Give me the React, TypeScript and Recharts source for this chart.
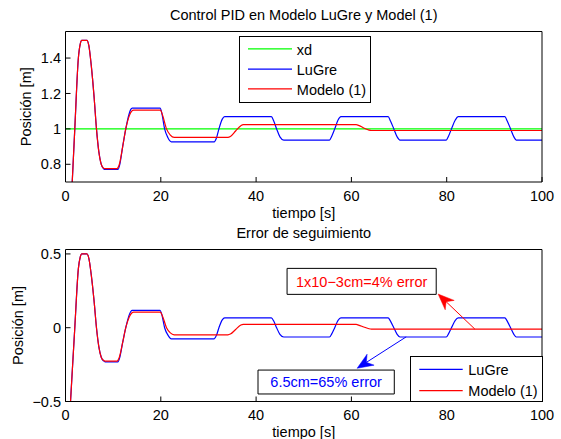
import React from 'react';
import { LineChart, Line, XAxis, YAxis, ReferenceArea, ReferenceLine, Legend } from 'recharts';

const FONT = '"Liberation Sans", Arial, Helvetica, sans-serif';
const FS = 14.5;

// ---- data ----
const xTicks = [0, 20, 40, 60, 80, 100];
const posTicks = [0.8, 1, 1.2, 1.4];
const errTicks = [-0.5, 0, 0.5];

const xdT = [0, 100];
const xdY = [1, 1];

const lugreT = [0, 0.5, 1.0, 1.95, 2.7, 3.1, 3.4, 4.5, 4.9, 5.4, 6.0, 6.5, 7.0, 7.5, 8.0, 8.3, 11.0, 11.4, 12.0, 12.65, 13.3, 13.7, 14.0, 19.85, 20.2, 20.8, 21.5, 22.2, 31.2, 31.7, 32.2, 32.9, 33.4, 43.2, 43.7, 44.3, 45.0, 45.8, 55.4, 55.9, 56.5, 57.2, 57.8, 67.7, 68.2, 68.9, 69.6, 70.2, 79.9, 80.4, 81.0, 81.8, 82.4, 92.2, 92.7, 93.4, 94.1, 94.6, 100];
const lugreY = [0.0, 0.2, 0.47, 1.0, 1.4, 1.48, 1.5, 1.5, 1.47, 1.36, 1.18, 1.0, 0.87, 0.8, 0.775, 0.771, 0.771, 0.8, 0.9, 1.0, 1.08, 1.11, 1.117, 1.117, 1.09, 1.0, 0.95, 0.927, 0.927, 0.95, 1.0, 1.055, 1.069, 1.069, 1.045, 1.0, 0.955, 0.937, 0.937, 0.96, 1.0, 1.05, 1.069, 1.069, 1.045, 1.0, 0.955, 0.937, 0.937, 0.96, 1.0, 1.05, 1.069, 1.069, 1.045, 1.0, 0.955, 0.937, 0.937];
const lugreErr = [-1.0, -0.8, -0.53, 0, 0.4, 0.48, 0.5, 0.5, 0.47, 0.36, 0.18, 0, -0.13, -0.2, -0.225, -0.231, -0.231, -0.2, -0.1, 0, 0.08, 0.11, 0.118, 0.118, 0.09, 0, -0.05, -0.075, -0.075, -0.05, 0, 0.053, 0.066, 0.066, 0.045, 0, -0.045, -0.063, -0.063, -0.04, 0, 0.05, 0.066, 0.066, 0.045, 0, -0.045, -0.063, -0.063, -0.04, 0, 0.05, 0.066, 0.066, 0.045, 0, -0.045, -0.063, -0.063];

const modelT = [0, 0.5, 1.0, 1.95, 2.7, 3.1, 3.4, 4.5, 4.9, 5.4, 6.0, 6.5, 7.0, 7.5, 8.0, 8.3, 10.8, 11.3, 12.0, 12.65, 13.4, 13.9, 14.3, 19.9, 20.4, 21.2, 22.0, 22.8, 34.1, 34.6, 35.7, 36.8, 37.3, 61.0, 61.5, 62.6, 63.7, 64.2, 100];
const modelY = [0, 0.2, 0.47, 1.0, 1.4, 1.48, 1.5, 1.5, 1.47, 1.36, 1.18, 1.0, 0.87, 0.8, 0.778, 0.776, 0.776, 0.8, 0.9, 1.0, 1.075, 1.1, 1.106, 1.106, 1.075, 1.0, 0.965, 0.952, 0.952, 0.957, 0.988, 1.018, 1.024, 1.024, 1.02, 1.005, 0.993, 0.991, 0.991];
const modelErr = [-1, -0.8, -0.53, 0, 0.4, 0.48, 0.5, 0.5, 0.47, 0.36, 0.18, 0, -0.13, -0.2, -0.222, -0.226, -0.226, -0.2, -0.1, 0, 0.075, 0.1, 0.106, 0.106, 0.075, 0, -0.035, -0.048, -0.048, -0.043, -0.012, 0.018, 0.022, 0.022, 0.018, 0.005, -0.007, -0.009, -0.009];

const legendTop = [
  { name: 'xd', color: '#00ff00' },
  { name: 'LuGre', color: '#0000ff' },
  { name: 'Modelo (1)', color: '#ff0000' },
];
const legendBottom = [
  { name: 'LuGre', color: '#0000ff' },
  { name: 'Modelo (1)', color: '#ff0000' },
];

const redNote = { text: '1x10\u22123cm=4% error', x1: 46.5, x2: 77.8, y1: 0.226, y2: 0.402, fromX: 85.9, fromY: -0.009, toX: 78.2, toY: 0.228 };
const blueNote = { text: '6.5cm=65% error', x1: 40.4, x2: 69.0, y1: -0.449, y2: -0.287, fromX: 71.5, fromY: -0.062, toX: 61.2, toY: -0.275 };

const zip = (t: number[], v: number[]) => t.map((x, i) => ({ t: x, v: v[i] }));

const fmtMinus = (v: number) => String(v).replace('-', '\u2212');

const tickStyle = { fill: '#000', fontSize: FS, fontFamily: FONT };

const Arrow = (props: any) => {
  const { x1, y1, x2, y2, color } = props;
  const dx = x2 - x1;
  const dy = y2 - y1;
  const len = Math.sqrt(dx * dx + dy * dy) || 1;
  const ux = dx / len;
  const uy = dy / len;
  const px = -uy;
  const py = ux;
  const L = 16;
  const W = 6.5;
  const N = 11;
  const bx = x2 - ux * L;
  const by = y2 - uy * L;
  const nx = x2 - ux * N;
  const ny = y2 - uy * N;
  const pts = `${x2},${y2} ${bx + px * W},${by + py * W} ${nx},${ny} ${bx - px * W},${by - py * W}`;
  return (
    <g>
      <line x1={x1} y1={y1} x2={nx} y2={ny} stroke={color} strokeWidth={1} />
      <polygon points={pts} fill={color} stroke={color} strokeWidth={0.5} />
    </g>
  );
};

const LegendBox = ({ items, w, h, rowY, lineX1, lineX2, textX, baseY }: any) => (
  <svg width={w} height={h} style={{ display: 'block' }}>
    <rect x={0.5} y={0.5} width={w - 1} height={h - 1} fill="#fff" stroke="#000" strokeWidth={1} />
    {items.map((it: any, i: number) => (
      <g key={it.name}>
        <line x1={lineX1} x2={lineX2} y1={rowY[i]} y2={rowY[i]} stroke={it.color} strokeWidth={1.2} />
        <text x={textX} y={baseY[i]} fontSize={FS} fontFamily={FONT} fill="#000">{it.name}</text>
      </g>
    ))}
  </svg>
);

const titleLabel = (text: string, dyBase: number) => ({
  content: (p: any) => {
    const vb = p.viewBox || {};
    return (
      <text x={vb.x + vb.width / 2} y={vb.y + dyBase} textAnchor="middle" fontSize={FS} fontFamily={FONT} fill="#000">{text}</text>
    );
  },
});

const xLabel = (text: string, dyBase: number) => ({
  content: (p: any) => {
    const vb = p.viewBox || {};
    return (
      <text x={vb.x + vb.width / 2} y={vb.y + dyBase} textAnchor="middle" fontSize={FS} fontFamily={FONT} fill="#000">{text}</text>
    );
  },
});

const yLabel = (text: string, bx: number) => ({
  content: (p: any) => {
    const vb = p.viewBox || {};
    const cy = vb.y + vb.height / 2;
    return (
      <text x={bx} y={cy} textAnchor="middle" transform={`rotate(-90 ${bx} ${cy})`} fontSize={FS} fontFamily={FONT} fill="#000">{text}</text>
    );
  },
});

const axisCommon = {
  stroke: '#000',
  axisLine: { stroke: '#000', strokeWidth: 1 },
  tickLine: { stroke: '#000', strokeWidth: 1 },
  tickSize: -5,
};

export default function App() {
  return (
    <div style={{ position: 'absolute', left: 0, top: 0, width: 561, height: 439, background: '#fff', fontFamily: FONT }}>
      <div style={{ position: 'absolute', left: 0, top: 0 }}>
        <LineChart width={561} height={222} margin={{ top: 0, right: 0, bottom: 0, left: 0 }}>
          <XAxis xAxisId={0} type="number" dataKey="t" domain={[0, 100]} ticks={xTicks} interval={0} allowDataOverflow height={40} tickMargin={13.5} tick={tickStyle} {...axisCommon} label={xLabel('tiempo [s]', 36)} />
          <XAxis xAxisId="top" orientation="top" type="number" dataKey="t" domain={[0, 100]} ticks={xTicks} interval={0} height={31.5} tick={false} {...axisCommon} label={titleLabel('Control PID en Modelo LuGre y Model (1)', 20)} />
          <YAxis yAxisId={0} type="number" domain={[0.7, 1.55]} ticks={posTicks} interval={0} allowDataOverflow width={65.5} tickMargin={9.5} tick={tickStyle} {...axisCommon} label={yLabel('Posición [m]', 31)} />
          <YAxis yAxisId="r" orientation="right" type="number" domain={[0.7, 1.55]} ticks={posTicks} interval={0} allowDataOverflow width={19} tick={false} {...axisCommon} />
          <Line data={zip(xdT, xdY)} dataKey="v" type="linear" stroke="#00ff00" strokeWidth={1.2} dot={false} isAnimationActive={false} />
          <Line data={zip(lugreT, lugreY)} dataKey="v" type="monotone" stroke="#0000ff" strokeWidth={1.2} dot={false} isAnimationActive={false} />
          <Line data={zip(modelT, modelY)} dataKey="v" type="monotone" stroke="#ff0000" strokeWidth={1.2} dot={false} isAnimationActive={false} />
          <Legend
            layout="vertical"
            align="center"
            verticalAlign="middle"
            wrapperStyle={{ position: 'absolute', left: 238.5, top: 35.5, width: 132, height: 67 }}
            content={() => (
              <LegendBox items={legendTop} w={132} h={67} rowY={[12.8, 33.2, 52.8]} lineX1={9} lineX2={53} textX={57.8} baseY={[18.5, 38.5, 58.5]} />
            )}
          />
        </LineChart>
      </div>
      <div style={{ position: 'absolute', left: 0, top: 222 }}>
        <LineChart width={561} height={217} margin={{ top: 0, right: 0, bottom: 0, left: 0 }}>
          <XAxis xAxisId={0} type="number" dataKey="t" domain={[0, 100]} ticks={xTicks} interval={0} allowDataOverflow height={37.5} tickMargin={13.5} tick={tickStyle} {...axisCommon} label={xLabel('tiempo [s]', 35.5)} />
          <XAxis xAxisId="top" orientation="top" type="number" dataKey="t" domain={[0, 100]} ticks={xTicks} interval={0} height={27.5} tick={false} {...axisCommon} label={titleLabel('Error de seguimiento', 16)} />
          <YAxis yAxisId={0} type="number" domain={[-0.5, 0.53]} ticks={errTicks} interval={0} allowDataOverflow width={65.5} tickMargin={9.5} tick={tickStyle} tickFormatter={fmtMinus} {...axisCommon} label={yLabel('Posición [m]', 22.5)} />
          <YAxis yAxisId="r" orientation="right" type="number" domain={[-0.5, 0.53]} ticks={errTicks} interval={0} allowDataOverflow width={19} tick={false} {...axisCommon} />
          <Line data={zip(lugreT, lugreErr)} dataKey="v" type="monotone" stroke="#0000ff" strokeWidth={1.2} dot={false} isAnimationActive={false} />
          <Line data={zip(modelT, modelErr)} dataKey="v" type="monotone" stroke="#ff0000" strokeWidth={1.2} dot={false} isAnimationActive={false} />
          <ReferenceArea x1={redNote.x1} x2={redNote.x2} y1={redNote.y1} y2={redNote.y2} fill="#fff" fillOpacity={1} stroke="#000" strokeWidth={1} label={{ value: redNote.text, position: 'center', fill: '#ff0000', fontSize: FS, fontFamily: FONT }} />
          <ReferenceArea x1={blueNote.x1} x2={blueNote.x2} y1={blueNote.y1} y2={blueNote.y2} fill="#fff" fillOpacity={1} stroke="#000" strokeWidth={1} label={{ value: blueNote.text, position: 'center', fill: '#0000ff', fontSize: FS, fontFamily: FONT }} />
          <ReferenceLine segment={[{ x: redNote.fromX, y: redNote.fromY }, { x: redNote.toX, y: redNote.toY }]} stroke="#ff0000" shape={(p: any) => <Arrow {...p} color="#ff0000" />} />
          <ReferenceLine segment={[{ x: blueNote.fromX, y: blueNote.fromY }, { x: blueNote.toX, y: blueNote.toY }]} stroke="#0000ff" shape={(p: any) => <Arrow {...p} color="#0000ff" />} />
          <Legend
            layout="vertical"
            align="center"
            verticalAlign="middle"
            wrapperStyle={{ position: 'absolute', left: 410, top: 134, width: 133, height: 46 }}
            content={() => (
              <LegendBox items={legendBottom} w={133} h={46} rowY={[13.3, 34.7]} lineX1={9.3} lineX2={52.7} textX={58.3} baseY={[19, 40]} />
            )}
          />
        </LineChart>
      </div>
    </div>
  );
}
